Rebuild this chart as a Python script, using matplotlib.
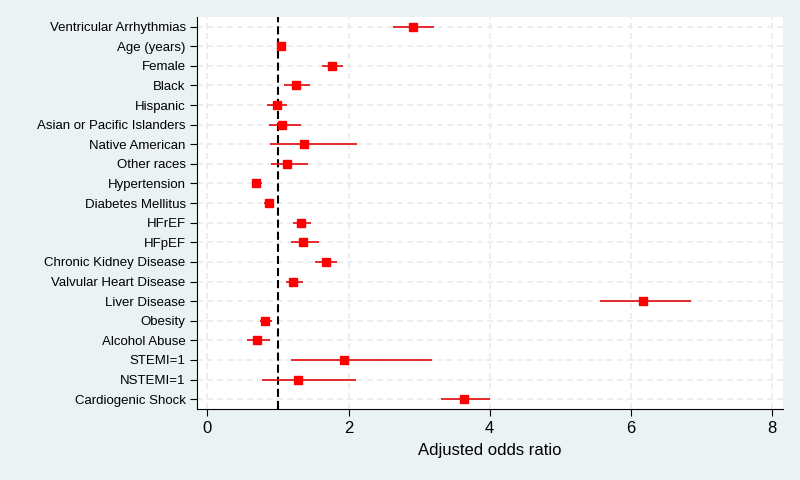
import matplotlib
matplotlib.use("Agg")
import matplotlib.pyplot as plt

labels = ["Ventricular Arrhythmias", "Age (years)", "Female", "Black", "Hispanic",
          "Asian or Pacific Islanders", "Native American", "Other races", "Hypertension",
          "Diabetes Mellitus", "HFrEF", "HFpEF", "Chronic Kidney Disease",
          "Valvular Heart Disease", "Liver Disease", "Obesity", "Alcohol Abuse",
          "STEMI=1", "NSTEMI=1", "Cardiogenic Shock"]
odds = [2.91, 1.04, 1.76, 1.26, 0.98, 1.06, 1.37, 1.13, 0.685, 0.87,
        1.33, 1.36, 1.68, 1.22, 6.18, 0.82, 0.70, 1.94, 1.28, 3.63]
lower = [2.63, 1.03, 1.62, 1.09, 0.85, 0.87, 0.89, 0.90, 0.63, 0.80,
         1.21, 1.18, 1.53, 1.12, 5.57, 0.75, 0.56, 1.19, 0.78, 3.31]
upper = [3.21, 1.05, 1.92, 1.45, 1.13, 1.32, 2.12, 1.42, 0.77, 0.945,
         1.47, 1.58, 1.84, 1.35, 6.86, 0.91, 0.89, 3.18, 2.10, 4.00]
xticks = [0, 2, 4, 6, 8]

plt.rcParams['font.family'] = ['Liberation Sans', 'DejaVu Sans']
bg = '#EAF2F3'
fig = plt.figure(figsize=(8, 4.8), dpi=100, facecolor=bg)
ax = fig.add_axes([0.246, 0.148, 0.733, 0.817])
ax.set_facecolor('white')

n = len(labels)
ypos = list(range(n))
for y in ypos:
    ax.axhline(y, color='#EBEBEB', lw=1.2, dashes=(3.6, 2.4), zorder=0)
for x in xticks:
    ax.axvline(x, color='#EBEBEB', lw=1.2, dashes=(3.6, 2.4), zorder=0)

ax.axvline(1, color='black', lw=1.5, dashes=(3.9, 1.9), zorder=2)
for y, lo, hi in zip(ypos, lower, upper):
    ax.plot([lo, hi], [y, y], color='#E41A1C', lw=1.3, zorder=3, solid_capstyle='butt')
ax.plot(odds, ypos, 's', color='#FF0000', markersize=5.5, zorder=4, linestyle='none')

ax.set_ylim(n - 0.5, -0.5)
ax.set_xlim(-0.15, 8.16)
ax.set_yticks(ypos)
ax.set_yticklabels(labels, fontsize=9.5)
ax.set_xticks(xticks)
ax.set_xticklabels([str(x) for x in xticks], fontsize=12)
ax.set_xlabel('Adjusted odds ratio', fontsize=12, labelpad=5)
ax.tick_params(axis='y', length=5, width=0.8, pad=3)
ax.tick_params(axis='x', length=5, width=0.8, pad=4)
for s in ['top', 'right']:
    ax.spines[s].set_visible(False)
for s in ['left', 'bottom']:
    ax.spines[s].set_linewidth(0.8)

fig.savefig('out.png', dpi=100, facecolor=bg)
